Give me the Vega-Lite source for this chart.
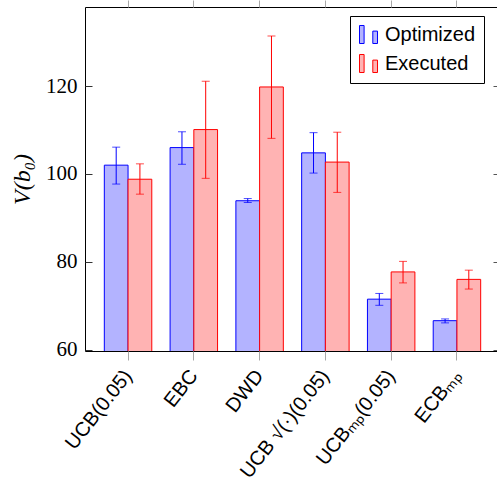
{
  "$schema": "https://vega.github.io/schema/vega-lite/v6.json",
  "width": 415,
  "height": 344,
  "autosize": "none",
  "padding": {"left": 85, "top": 7, "right": 0, "bottom": 135},
  "config": {
    "view": {"stroke": "black", "strokeWidth": 1},
    "legend": {
      "orient": "none",
      "legendX": 265,
      "legendY": 9,
      "padding": 8,
      "strokeColor": "black",
      "fillColor": "white",
      "cornerRadius": 0,
      "labelFont": "Liberation Sans",
      "labelFontSize": 20,
      "labelColor": "black",
      "labelOffset": 6,
      "rowPadding": 6,
      "symbolType": "M-0.9,-0.9H-0.44V0.9H-0.9Z M0.43,-0.34H0.9V0.9H0.43Z",
      "symbolSize": 400,
      "symbolStrokeWidth": 1,
      "symbolOpacity": 1
    }
  },
  "data": {
    "values": [
      {"method": "UCB(0.05)", "series": "Optimized", "value": 102.0, "lo": 97.7, "hi": 106.1},
      {"method": "UCB(0.05)", "series": "Executed", "value": 98.8, "lo": 95.4, "hi": 102.3},
      {"method": "EBC", "series": "Optimized", "value": 106.0, "lo": 102.2, "hi": 109.6},
      {"method": "EBC", "series": "Executed", "value": 110.1, "lo": 99.0, "hi": 121.1},
      {"method": "DWD", "series": "Optimized", "value": 93.9, "lo": 93.5, "hi": 94.4},
      {"method": "DWD", "series": "Executed", "value": 119.8, "lo": 108.1, "hi": 131.4},
      {"method": "UCB √(·)(0.05)", "series": "Optimized", "value": 104.8, "lo": 100.2, "hi": 109.4},
      {"method": "UCB √(·)(0.05)", "series": "Executed", "value": 102.7, "lo": 95.8, "hi": 109.5},
      {"method": "UCBₘₚ(0.05)", "series": "Optimized", "value": 71.5, "lo": 70.1, "hi": 72.8},
      {"method": "UCBₘₚ(0.05)", "series": "Executed", "value": 77.7, "lo": 75.2, "hi": 80.1},
      {"method": "ECBₘₚ", "series": "Optimized", "value": 66.6, "lo": 66.1, "hi": 67.0},
      {"method": "ECBₘₚ", "series": "Executed", "value": 76.0, "lo": 73.8, "hi": 78.1}
    ]
  },
  "resolve": {"axis": {"x": "independent", "y": "independent"}},
  "layer": [
    {
      "mark": {"type": "bar", "clip": true, "strokeWidth": 1},
      "encoding": {
        "x": {
          "field": "method", "type": "nominal", "sort": null,
          "scale": {"paddingInner": 0.2785, "paddingOuter": 0.2938},
          "axis": {
            "orient": "bottom", "title": null, "domain": false, "grid": false,
            "tickColor": "#a8a8a8", "tickSize": 9, "tickWidth": 1,
            "labelAngle": -52, "labelAlign": "right", "labelBaseline": "middle",
            "labelFont": "Liberation Sans", "labelFontSize": 20, "labelColor": "black",
            "labelPadding": 12, "labelOverlap": false, "labelLimit": 0
          }
        },
        "xOffset": {"field": "series", "type": "nominal", "sort": ["Optimized", "Executed"], "scale": {"paddingInner": 0, "paddingOuter": 0}},
        "y": {
          "field": "value", "type": "quantitative",
          "scale": {"domain": [59.7, 138], "nice": false, "zero": false},
          "axis": {
            "orient": "left", "title": "V(b₀)", "domain": false, "grid": false,
            "values": [60, 80, 100, 120],
            "tickColor": "#333333", "tickSize": -7, "tickWidth": 1,
            "labelFont": "Liberation Serif", "labelFontSize": 21, "labelColor": "black",
            "labelPadding": 15,
            "titleFont": "Liberation Serif", "titleFontStyle": "italic", "titleFontWeight": "normal",
            "titleFontSize": 24, "titleColor": "black", "titlePadding": 11
          }
        },
        "fill": {
          "field": "series", "type": "nominal",
          "scale": {"domain": ["Optimized", "Executed"], "range": ["#b3b3ff", "#ffb3b3"]},
          "legend": {"title": null}
        },
        "stroke": {
          "field": "series", "type": "nominal",
          "scale": {"domain": ["Optimized", "Executed"], "range": ["#0000ff", "#ff0000"]},
          "legend": {"title": null}
        }
      }
    },
    {
      "mark": {"type": "rule", "strokeWidth": 1},
      "encoding": {
        "x": {
          "field": "method", "type": "nominal", "sort": null,
          "axis": {
            "orient": "top", "title": null, "labels": false, "domain": false, "grid": false,
            "tickColor": "#a8a8a8", "tickSize": 7, "tickWidth": 1
          }
        },
        "xOffset": {"field": "series", "type": "nominal", "sort": ["Optimized", "Executed"]},
        "y": {
          "field": "lo", "type": "quantitative",
          "scale": {"domain": [59.7, 138], "nice": false, "zero": false},
          "axis": {
            "orient": "right", "title": null, "labels": false, "domain": false, "grid": false,
            "values": [60, 80, 100, 120],
            "tickColor": "#555555", "tickSize": -7, "tickWidth": 1
          }
        },
        "y2": {"field": "hi"},
        "stroke": {"field": "series", "type": "nominal"}
      }
    },
    {
      "mark": {"type": "tick", "orient": "horizontal", "size": 8, "thickness": 1},
      "encoding": {
        "x": {"field": "method", "type": "nominal", "sort": null, "axis": null},
        "xOffset": {"field": "series", "type": "nominal", "sort": ["Optimized", "Executed"]},
        "y": {"field": "lo", "type": "quantitative", "scale": {"domain": [59.7, 138], "nice": false, "zero": false}, "axis": null},
        "color": {"field": "series", "type": "nominal", "scale": {"domain": ["Optimized", "Executed"], "range": ["#0000ff", "#ff0000"]}, "legend": null}
      }
    },
    {
      "mark": {"type": "tick", "orient": "horizontal", "size": 8, "thickness": 1},
      "encoding": {
        "x": {"field": "method", "type": "nominal", "sort": null, "axis": null},
        "xOffset": {"field": "series", "type": "nominal", "sort": ["Optimized", "Executed"]},
        "y": {"field": "hi", "type": "quantitative", "scale": {"domain": [59.7, 138], "nice": false, "zero": false}, "axis": null},
        "color": {"field": "series", "type": "nominal", "scale": {"domain": ["Optimized", "Executed"], "range": ["#0000ff", "#ff0000"]}, "legend": null}
      }
    }
  ]
}
